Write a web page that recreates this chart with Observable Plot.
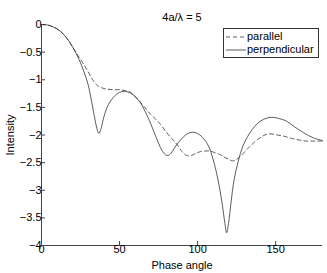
<!DOCTYPE html>
<html>
<head>
<meta charset="utf-8">
<script src="https://cdn.jsdelivr.net/npm/d3@7"></script>
<script src="https://cdn.jsdelivr.net/npm/@observablehq/plot@0.6"></script>
<style>
  body { margin: 0; background: #fff; }
  #wrap { position: relative; width: 327px; height: 273px; font-family: "Liberation Sans", Arial, sans-serif; }
  #legend { position: absolute; left: 223px; top: 28px; width: 94px; height: 28px; border: 1px solid #333; background: #fff; font-size: 11px; color: #000; }
  #legend div { position: absolute; left: 0; height: 13px; line-height: 13px; }
  #legend svg { position: absolute; left: 2px; top: 6px; }
  #legend span { position: absolute; left: 23px; top: 0; white-space: nowrap; }
</style>
</head>
<body>
<div id="wrap"></div>
<script>
const title = "4a/λ = 5";
const xLabel = "Phase angle";
const yLabel = "Intensity";
const seriesNames = ["parallel", "perpendicular"];
const xTicks = [0, 50, 100, 150];
const yTicks = [-4, -3.5, -3, -2.5, -2, -1.5, -1, -0.5, 0];

const perpX = [0,4,8,12,16,20,24,27,30,32,34,35.5,36.7,38,39.5,42,46,50,53,57,60,63,66,70,74,77,79.5,81,83,86,90,94,97.5,101,104,107,110,113,115.5,117.5,118.6,119.8,121.5,123.3,126,129,132,135,138,142,147,152,157,162,168,174,180];
const perpY = [0,-0.01,-0.05,-0.12,-0.24,-0.41,-0.63,-0.84,-1.1,-1.38,-1.68,-1.88,-1.97,-1.9,-1.72,-1.5,-1.32,-1.23,-1.21,-1.24,-1.31,-1.4,-1.55,-1.8,-2.08,-2.27,-2.36,-2.37,-2.33,-2.2,-2.06,-1.97,-1.95,-1.99,-2.07,-2.2,-2.45,-2.8,-3.2,-3.6,-3.77,-3.6,-3.2,-2.82,-2.48,-2.2,-2.03,-1.9,-1.8,-1.72,-1.68,-1.7,-1.75,-1.85,-1.96,-2.05,-2.1];

const paraX = [0,4,8,12,16,20,24,27,30,33,36,39,42,46,50,54,57,60,63.5,67,70,73,76,80,84,87,90,93,96,99,102,105,108,111,114,117,120,122.5,125,128,132,136,140,144,147,151,155,160,165,170,175,180];
const paraY = [0,-0.01,-0.05,-0.12,-0.24,-0.41,-0.59,-0.72,-0.86,-1.01,-1.11,-1.15,-1.17,-1.18,-1.18,-1.2,-1.23,-1.3,-1.41,-1.53,-1.63,-1.71,-1.8,-1.95,-2.08,-2.18,-2.3,-2.37,-2.37,-2.33,-2.3,-2.29,-2.29,-2.32,-2.35,-2.4,-2.44,-2.47,-2.44,-2.37,-2.25,-2.14,-2.05,-1.99,-1.98,-2.0,-2.02,-2.06,-2.09,-2.11,-2.11,-2.11];

const perp = perpX.map((x, i) => ({x, y: perpY[i]}));
const para = paraX.map((x, i) => ({x, y: paraY[i]}));
const fmt = d => String(d).replace("-", "\u2212");

const chart = Plot.plot({
  width: 327,
  height: 273,
  marginLeft: 41,
  marginRight: 5,
  marginTop: 24,
  marginBottom: 28,
  style: {fontFamily: "Liberation Sans, Arial, sans-serif", fontSize: "11px", color: "#000", background: "#fff"},
  x: {domain: [0, 180]},
  y: {domain: [-4, 0]},
  marks: [
    Plot.ruleX([0], {stroke: "#444"}),
    Plot.ruleY([-4], {stroke: "#444"}),
    Plot.axisX({ticks: xTicks, tickSize: -4, tickPadding: 4, tickFormat: fmt, fontSize: 11, label: xLabel, labelAnchor: "center", labelArrow: "none", labelOffset: 23, stroke: "#444"}),
    Plot.axisY({ticks: yTicks, tickSize: -4, tickPadding: 4, tickFormat: fmt, fontSize: 11, label: yLabel, labelAnchor: "center", labelArrow: "none", labelOffset: 35, stroke: "#444"}),
    Plot.line(para, {x: "x", y: "y", curve: "catmull-rom", stroke: "#333", strokeWidth: 0.8, strokeDasharray: "4,3"}),
    Plot.line(perp, {x: "x", y: "y", curve: "catmull-rom", stroke: "#333", strokeWidth: 0.8}),
    Plot.text([title], {frameAnchor: "top", dy: -11, fontSize: 11, fill: "#000"})
  ]
});

const wrap = document.getElementById("wrap");
wrap.appendChild(chart);
const legend = document.createElement("div");
legend.id = "legend";
seriesNames.forEach((name, i) => {
  const row = document.createElement("div");
  row.style.top = (1 + i * 13) + "px";
  row.style.width = "100%";
  row.innerHTML = `<svg width="20" height="2"><line x1="0" y1="1" x2="20" y2="1" stroke="#333" stroke-width="0.8" ${i === 0 ? 'stroke-dasharray="4,3"' : ''}/></svg><span>${name}</span>`;
  legend.appendChild(row);
});
wrap.appendChild(legend);
</script>
</body>
</html>
